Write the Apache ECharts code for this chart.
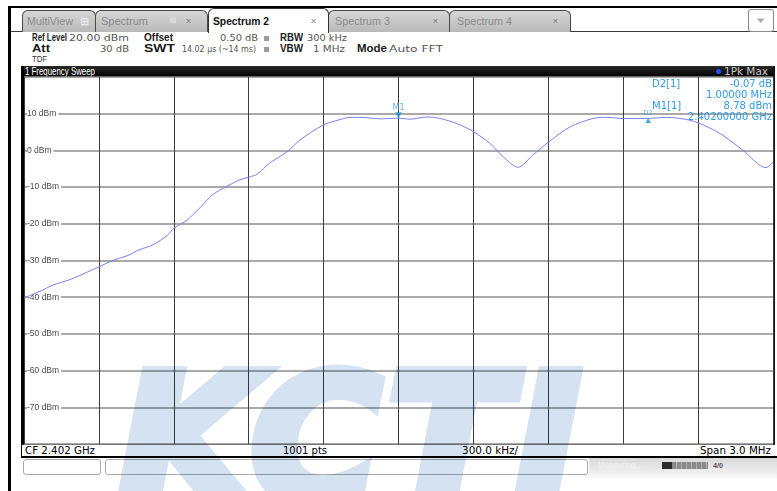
<!DOCTYPE html>
<html><head><meta charset="utf-8">
<script src="https://cdn.jsdelivr.net/npm/echarts@6/dist/echarts.min.js"></script>
<style>
html,body{margin:0;padding:0;width:777px;height:491px;overflow:hidden;background:#fff;font-family:"Liberation Sans",sans-serif;}
#chrome{position:absolute;left:0;top:0;width:777px;height:491px;z-index:1;}
#chart{position:absolute;left:0;top:0;width:777px;height:491px;z-index:2;}
#wm{position:absolute;left:0;top:0;width:777px;height:491px;z-index:3;pointer-events:none;overflow:hidden;mix-blend-mode:multiply;}
.b{position:absolute;box-sizing:border-box;}
.t{position:absolute;white-space:nowrap;transform-origin:left center;}
.tab{position:absolute;box-sizing:border-box;border:1px solid #4a4a4a;border-bottom:none;border-radius:6px 6px 0 0;background:linear-gradient(#d6d6d6,#b9b9b9);}
.xb{position:absolute;box-sizing:border-box;background:#fff;border:1px solid #9a9a9a;border-radius:2px;}
</style></head>
<body>
<div id="chrome"></div>
<div id="chart"></div>
<div id="wm"><div style="position:absolute;left:118px;top:352px;font-family:'DejaVu Sans';font-weight:bold;font-style:italic;font-size:178px;line-height:178px;color:#d4e2f1;-webkit-text-stroke:11px #d4e2f1;white-space:nowrap;letter-spacing:6px;">KCTI</div></div>
<script>
// ---- data ----
const centerFreqGHz = 2.402;
const spanMHz = 3.0;
const freqOffsetMHz = [-1.500,-1.436,-1.384,-1.316,-1.248,-1.196,-1.144,-1.075,-1.047,-0.983,-0.927,-0.899,-0.847,-0.795,-0.743,-0.687,-0.635,-0.595,-0.567,-0.515,-0.447,-0.395,-0.302,-0.234,-0.194,-0.126,-0.074,0.000,0.046,0.114,0.166,0.234,0.298,0.366,0.419,0.479,0.539,0.607,0.687,0.779,0.835,0.899,1.000,1.075,1.155,1.208,1.288,1.380,1.472,1.500];
const levelDbm = [-40.2,-38.4,-36.7,-35.2,-33.2,-31.6,-30.0,-28.4,-27.3,-25.7,-23.2,-21.2,-19.0,-15.6,-12.0,-9.8,-8.0,-7.2,-6.5,-3.4,-0.4,2.8,6.9,8.4,9.0,8.9,8.6,8.78,8.5,9.1,8.7,7.3,5.2,1.9,-1.7,-4.6,-1.2,2.6,6.4,8.7,9.0,8.7,8.71,9.0,8.4,7.3,4.6,0.0,-4.7,-3.2];
const markerNames = ['M1','D2'];
const markerFreqMHz = [0.0, 1.0];
const markerLevelDbm = [8.78, 8.71];
const yTickValues = [10,0,-10,-20,-30,-40,-50,-60,-70];
const markerInfo = [['D2[1]','-0.07 dB'],['','1.00000 MHz'],['M1[1]','8.78 dBm'],['','2.40200000 GHz']];

// ---- chrome (instrument screen) ----
const C = document.getElementById('chrome');
function box(x,y,w,h,css){const d=document.createElement('div');d.className='b';d.style.left=x+'px';d.style.top=y+'px';d.style.width=w+'px';d.style.height=h+'px';if(css)d.style.cssText+=css;C.appendChild(d);return d;}
function tab(x,y,w,h){const d=document.createElement('div');d.className='tab';d.style.left=x+'px';d.style.top=y+'px';d.style.width=w+'px';d.style.height=h+'px';C.appendChild(d);return d;}
function T(txt,x,cy,w,o){o=o||{};const fs=o.fs||10;const d=document.createElement('div');d.className='t';d.textContent=txt;
 d.style.fontSize=fs+'px';d.style.lineHeight=(fs+2)+'px';d.style.top=(cy-(fs+2)/2)+'px';
 d.style.fontWeight=o.b?'bold':'normal';d.style.color=o.c||'#000';d.style.fontFamily=o.f||'"Liberation Sans"';
 C.appendChild(d);const aw=d.getBoundingClientRect().width;const tw=w||aw;
 d.style.left=(o.r?x-tw:x)+'px';if(w)d.style.transform='scaleX('+(w/aw)+')';return d;}

// outer screen border
box(8,6,769,2,'background:#000;');
box(8,6,3,485,'background:#000;');
// tabs
box(11,31,766,1,'background:#3a3a3a;');
tab(22,10,74,22); tab(95,10,113,22); tab(328,10,122,22); tab(449,10,122,22);
box(208,8,121,25,'background:#fff;border:1px solid #333;border-bottom:none;border-radius:6px 6px 0 0;');
T('MultiView',27,21,46,{fs:10.5,c:'#8b8b8b'});
T('\u229E',80,21,9,{fs:11,c:'#f2f2f2'});
T('Spectrum',101,21,47,{fs:10.5,c:'#8b8b8b'});
box(170,17,6,6,'background:#d8d8d8;border-radius:1px;');
T('Spectrum 2',213,21,56,{fs:10.5,b:1,c:'#111'});
T('Spectrum 3',335,21,55,{fs:10.5,c:'#8b8b8b'});
T('Spectrum 4',457,21,55,{fs:10.5,c:'#8b8b8b'});
[[180,16],[302,23],[423,24],[545,21]].forEach(a=>{box(a[0],12,a[1],17);T('x',a[0]+a[1]/2-2.5,20.5,5,{fs:8,c:'#777'});});
box(748,9,26,23,'background:#fff;border:1px solid #8a8a8a;border-radius:3px;');
T('\u25BE',757,20,8,{fs:9,c:'#aaa'});
// info rows
const lb={fs:10,b:1,c:'#1a1a1a'}, vl={fs:9.5,c:'#555',f:'"DejaVu Sans"'};
T('Ref Level',32,38,35,lb); T('20.00 dBm',129,38,60,Object.assign({r:1},vl));
T('Offset',144,38,29,lb); T('0.50 dB',258,38,38,Object.assign({r:1},vl));
box(264,36,5,5,'background:#9a9a9a;');
T('RBW',280,38,23,lb); T('300 kHz',347,38,40,Object.assign({r:1},vl));
T('Att',32,48.5,18,lb); T('30 dB',129,48.5,29,Object.assign({r:1},vl));
T('SWT',144,48.5,31,lb); T('14.02 \u00B5s (~14 ms)',256,48.5,74,Object.assign({r:1},vl));
box(264,46.5,5,5,'background:#9a9a9a;');
T('VBW',280,48.5,23,lb); T('1 MHz',345,48.5,32,Object.assign({r:1},vl));
T('Mode',357,48.5,30,lb); T('Auto FFT',389,48.5,54,vl);
T('TDF',32,58.5,15,{fs:9.5,c:'#333'});
// sweep header bar
box(22,66,753,11,'background:linear-gradient(#2a2a2a,#000);border-radius:3px 3px 0 0;');
T('1 Frequency Sweep',25,71.5,70,{fs:11,c:'#fff'});
box(716,69,5,5,'background:#1e50ff;border-radius:50%;');
T('1Pk Max',724,71.5,44,{fs:10,c:'#c8c8c8',f:'"DejaVu Sans"'});
// plot frame
box(21,66,3,392,'background:#000;');
box(773,66,2,392,'background:#111;');
// status bar
box(22,444,753,12,'background:#fff;border-top:1px solid #333;');
T('CF 2.402 GHz',25,450.5,70,{fs:10,f:'"DejaVu Sans"'});
T('1001 pts',283,450.5,44,{fs:10,f:'"DejaVu Sans"'});
T('300.0 kHz/',462,450.5,56,{fs:10,f:'"DejaVu Sans"'});
T('Span 3.0 MHz',771,450.5,71,{fs:10,f:'"DejaVu Sans"',r:1});
box(21,456,756,2,'background:#000;');
// bottom boxes
box(23,459,78,16,'border:1px solid #aaa;border-radius:3px;background:#fff;');
box(105,459,483,16,'border:1px solid #aaa;border-radius:3px;background:#fff;');
box(589,458,188,20,'background:linear-gradient(#d9d9d9,#f7f7f7);');
T('Measuring...',598,465,44,{fs:9,c:'#f4f4f4'});
box(662,462,10,7,'background:#2a2a2a;');
box(672,462,36,7,'background:repeating-linear-gradient(90deg,#8a8a8a 0 4px,#b0b0b0 4px 5px);');
T('4/0',713,465.5,10,{fs:8,b:1,c:'#555'});

// ---- chart ----
const chart = echarts.init(document.getElementById('chart'), null, {renderer:'canvas'});
const traceData = freqOffsetMHz.map((f,i)=>[f, levelDbm[i]]);
const infoGraphics = [];
markerInfo.forEach((row,i)=>{
  const y = 84 + i*11;
  if(row[0]) infoGraphics.push({type:'text', x:652, y:y, z:50, style:{text:row[0], align:'left', verticalAlign:'middle', fill:'#2e9be2', font:'10px "DejaVu Sans"'}});
  infoGraphics.push({type:'text', x:772, y:y, z:50, style:{text:row[1], align:'right', verticalAlign:'middle', fill:'#2e9be2', font:'10px "DejaVu Sans"'}});
});
chart.setOption({
  animation:false,
  backgroundColor:'transparent',
  grid:{left:24, top:77, width:749, height:367, containLabel:false},
  xAxis:{type:'value', min:-spanMHz/2, max:spanMHz/2, interval:0.3,
    axisLine:{show:false}, axisTick:{show:false}, axisLabel:{show:false},
    splitLine:{show:true, lineStyle:{color:'#3c3c3c', width:1}}},
  yAxis:{type:'value', min:-80, max:20, interval:10,
    axisLine:{show:false}, axisTick:{show:false},
    axisLabel:{inside:true, margin:3, showMinLabel:false, showMaxLabel:false,
      formatter:v=> yTickValues.indexOf(v)>=0 ? v+' dBm' : '',
      color:'#4a4a4a', fontSize:8.5, fontFamily:'Liberation Sans',
      backgroundColor:'#fff', padding:[1,2,1,0]},
    splitLine:{show:true, lineStyle:{color:'#8c8c8c', width:1.5}}},
  series:[
    {type:'line', data:traceData, smooth:0.3, showSymbol:false, symbol:'none',
      lineStyle:{color:'#7682f2', width:1}, z:3},
    {type:'scatter', data:[[markerFreqMHz[0], markerLevelDbm[0]]], symbol:'triangle', symbolRotate:180,
      symbolSize:[7,6], symbolOffset:[0,-3], itemStyle:{color:'#2596dc'}, z:5,
      label:{show:true, formatter:markerNames[0], position:'top', distance:0, color:'#3aa0e0', fontSize:8, fontFamily:'DejaVu Sans'}},
    {type:'scatter', data:[[markerFreqMHz[1], markerLevelDbm[1]]], symbol:'triangle',
      symbolSize:[6,5], symbolOffset:[0,2], itemStyle:{color:'#2596dc'}, z:5,
      label:{show:true, formatter:markerNames[1], position:'top', distance:1, color:'#3aa0e0', fontSize:6.5, fontFamily:'DejaVu Sans'}}
  ],
  graphic:infoGraphics
});
</script>
</body></html>
